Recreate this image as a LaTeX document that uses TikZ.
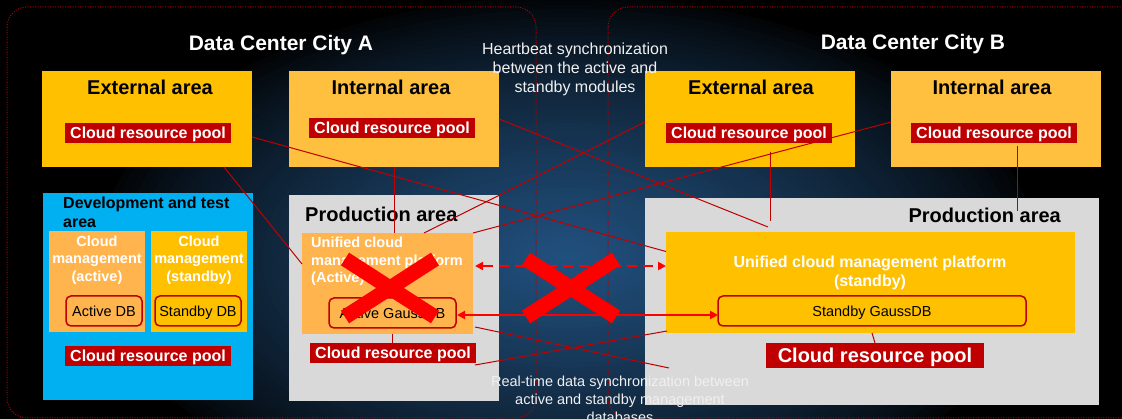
\documentclass[tikz,border=0pt]{standalone}
\usepackage{fontspec}
\setmainfont{Liberation Sans}
\usetikzlibrary{calc,arrows.meta}
\definecolor{cgold}{HTML}{FFC000}
\definecolor{cint}{HTML}{FFC040}
\definecolor{clor}{HTML}{FFB44E}
\definecolor{cdev}{HTML}{00B0F0}
\definecolor{cgrey}{HTML}{D9D9D9}
\definecolor{cpool}{HTML}{C00000}
\definecolor{cline}{HTML}{C00000}
\definecolor{cred}{HTML}{FF0000}
\definecolor{cdot}{HTML}{B00000}
\definecolor{cnote}{HTML}{F0F0F0}
\definecolor{bgblue}{HTML}{21507E}
\begin{document}
\begin{tikzpicture}[x=1pt,y=-1pt,
  blk/.style={inner sep=0pt,outer sep=0pt,anchor=center},
  goldbox/.style={blk,fill=cgold},
  intbox/.style={blk,fill=cint},
  lorbox/.style={blk,fill=clor},
  devbox/.style={blk,fill=cdev},
  greybox/.style={blk,fill=cgrey},
  pool/.style={blk,fill=cpool,text=white,font=\fontsize{16}{19}\selectfont\bfseries,text height=11.5pt,text depth=0pt},
  bigpool/.style={pool,font=\fontsize{20}{24}\selectfont\bfseries,text height=14.4pt},
  db/.style={blk,draw=cpool,line width=1.5pt,rounded corners=5pt,font=\fontsize{14.5}{17}\selectfont,text height=10.4pt,text depth=0pt},
  areatitle/.style={inner sep=0pt,font=\fontsize{20}{24}\selectfont\bfseries,anchor=base},
  citytitle/.style={inner sep=0pt,text=white,font=\fontsize{21}{25}\selectfont\bfseries,anchor=base},
  wtext/.style={inner sep=0pt,text=white,font=\fontsize{14.5}{17.5}\selectfont\bfseries},
  note/.style={inner sep=0pt,text=cnote,font=\fontsize{16}{19}\selectfont,align=center},
  link/.style={draw=cline,line width=1pt},
  harrow/.style={draw=cred,line width=2pt,{Triangle[length=8pt,width=8pt]}-{Triangle[length=8pt,width=8pt]}},
  xbar/.style={draw=cred,line width=15pt},
  city/.style={draw=cdot,line width=1pt,dash pattern=on 1pt off 1.5pt,rounded corners=20pt}]
\useasboundingbox (0,0) rectangle (1122,419);
\clip (0,0) rectangle (1122,419);
% background: dark, with a navy glow in the middle
\fill[black] (0,0) rectangle (1122,419);
\foreach \i in {1,...,60}{
  \pgfmathsetmacro\pct{100*(\i/60)^0.75}
  \pgfmathsetmacro\rr{1-(\i-1)/60}
  \fill[bgblue!\pct!black] (568,258) ellipse ({470*\rr} and {262*\rr});
}
% data center frames
\draw[city] (7,7) rectangle (536,418);
\draw[city] (608,7) rectangle (1145,418);
\node[citytitle] (titleA) at (281,50.5) {Data Center City A};
\node[citytitle] (titleB) at (913,49.5) {Data Center City B};
% top areas
\node[goldbox,minimum width=210,minimum height=96] (extA) at (147,119) {};
\node[intbox,minimum width=210,minimum height=96] (intA) at (394,119) {};
\node[goldbox,minimum width=210,minimum height=96] (extB) at (750,119) {};
\node[intbox,minimum width=210,minimum height=96] (intB) at (996,119) {};
\node[areatitle] (labExtA) at (150,95) {External area};
\node[areatitle] (labIntA) at (391,95) {Internal area};
\node[areatitle] (labExtB) at (751,95) {External area};
\node[areatitle] (labIntB) at (992,95) {Internal area};
\node[pool,minimum width=166,minimum height=20] (poolExtA) at (148,133) {Cloud resource pool};
\node[pool,minimum width=166,minimum height=20] (poolIntA) at (392,128) {Cloud resource pool};
\node[pool,minimum width=166,minimum height=20] (poolExtB) at (749,133) {Cloud resource pool};
\node[pool,minimum width=166,minimum height=20] (poolIntB) at (994,133) {Cloud resource pool};
% development and test area
\node[devbox,minimum width=210,minimum height=207] (devA) at (148,296.5) {};
\node[inner sep=0pt,anchor=west,align=left,font=\fontsize{16}{19}\selectfont\bfseries] (labDev) at (63,212) {Development and test\\area};
\node[lorbox,minimum width=96,minimum height=101] (cmA) at (97,281.5) {};
\node[goldbox,minimum width=96,minimum height=101] (cmS) at (199,281.5) {};
\node[wtext,align=center] (cmAtext) at (97,260) {Cloud\\management\\(active)};
\node[wtext,align=center] (cmStext) at (199,260) {Cloud\\management\\(standby)};
\node[db,fill=clor,minimum width=76,minimum height=30] (adb) at (104,311) {Active DB};
\node[db,fill=cgold,minimum width=86,minimum height=30] (sdb) at (198,311) {Standby DB};
\node[pool,minimum width=166,minimum height=20] (poolDev) at (148,356) {Cloud resource pool};
% production area A
\node[greybox,minimum width=210,minimum height=206] (prodA) at (394,298) {};
\node[areatitle,anchor=base west] (labProdA) at (305,222) {Production area};
\node[lorbox,minimum width=171,minimum height=101] (uA) at (387.5,283.5) {};
\node[wtext,anchor=west,align=left] (uAtext) at (311,261.5) {Unified cloud\\management platform\\(Active)};
\node[db,fill=clor,minimum width=127,minimum height=30] (agdb) at (392.5,313) {Active GaussDB};
\node[pool,minimum width=166,minimum height=20] (poolProdA) at (393,353) {Cloud resource pool};
% production area B
\node[greybox,minimum width=454,minimum height=207] (prodB) at (872,301.5) {};
\node[areatitle,anchor=base east] (labProdB) at (1061,223) {Production area};
\node[goldbox,minimum width=409,minimum height=101] (uB) at (870.5,282.5) {};
\node[wtext,align=center,font=\fontsize{16}{19}\selectfont\bfseries] (uBtext) at (870,273) {Unified cloud management platform\\(standby)};
\node[db,fill=cgold,minimum width=308,minimum height=30] (sgdb) at (872,311) {Standby GaussDB};
\node[bigpool,minimum width=218,minimum height=25] (poolProdB) at (875,355.5) {Cloud resource pool};
% notes
\node[note] (hb) at (575,69.7) {Heartbeat synchronization\\between the active and\\standby modules};
\node[note,font=\fontsize{14.5}{18}\selectfont] (rt) at (620,399) {Real-time data synchronization between\\active and standby management\\databases};
% connectors
\draw[link] ($(extA.east)+(0,18)$) -- ($(uB.west)+(0,-31)$);
\draw[link] (intA.east) -- ($(uB.north west)+(102,-5)$);
\draw[link] ($(extA.south)+(77,0)$) -- ($(uA.west)+(0,-19.5)$);
\draw[link] (intA.south) -- (intA.south |- uA.north);
\draw[link] ($(extB.west)+(0,3)$) -- ($(uA.north)+(36.5,0)$);
\draw[link] ($(intB.west)+(0,3)$) -- (uA.north east);
\draw[link] ($(extB.center)+(20,33)$) -- ($(prodB.north)+(-102,23)$);
\draw[link] ($(poolIntB.south)+(23,3)$) -- ($(prodB.north)+(145,13)$);
\draw[link] ($(uA.east)+(2,43.5)$) -- ($(uB.south west)+(3,35)$);
\draw[link] ($(poolProdA.south east)+(-1,2)$) -- ($(uB.south west)+(1,-2)$);
\draw[link] (agdb.south |- uA.south) -- (agdb.south |- poolProdA.north);
\draw[link] (sgdb.south |- uB.south) -- (poolProdB.north);
\draw[harrow,dash pattern=on 10pt off 6pt] ($(uA.east)+(2,-17.5)$) -- ($(uB.west)+(0,-16.5)$);
\draw[harrow] ($(agdb.east)+(1,2)$) -- ($(sgdb.west)+(0,4)$);
% red crosses
\coordinate (xA) at (390,288);
\coordinate (xB) at (571,288);
\draw[xbar] ($(xA)+(-45,-29)$) -- ($(xA)+(45,29)$);
\draw[xbar] ($(xA)+(-45,29)$) -- ($(xA)+(45,-29)$);
\draw[xbar] ($(xB)+(-45,-29)$) -- ($(xB)+(45,29)$);
\draw[xbar] ($(xB)+(-45,29)$) -- ($(xB)+(45,-29)$);
\end{tikzpicture}
\end{document}
